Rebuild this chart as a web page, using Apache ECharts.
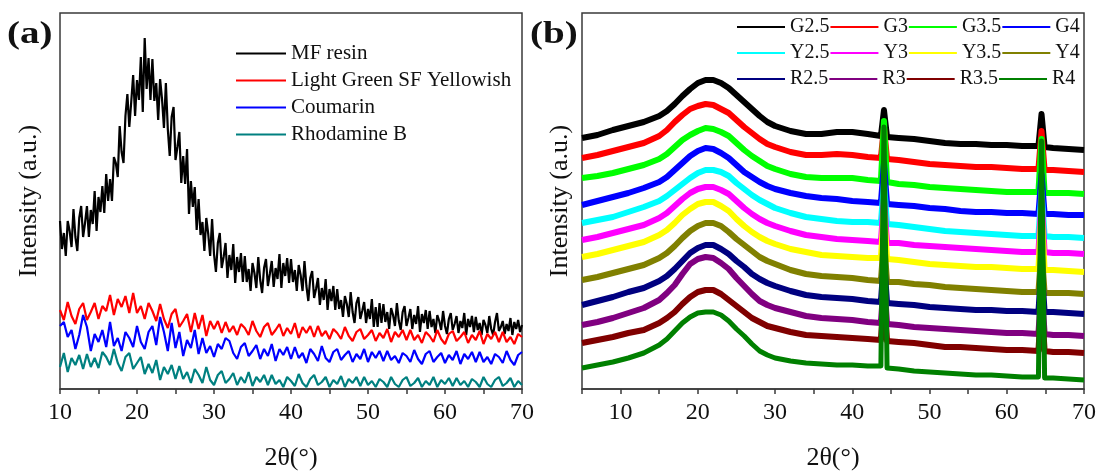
<!DOCTYPE html>
<html>
<head>
<meta charset="utf-8">
<title>XRD</title>
<script src="https://cdn.jsdelivr.net/npm/echarts@6/dist/echarts.min.js"></script>
<style>html,body{margin:0;padding:0;background:#fff}#chart{width:1100px;height:471px}</style>
</head>
<body>
<div id="chart"></div>
<script>
// ---- panel (a): scans from 10 to 70 deg (arbitrary intensity units)
// MF resin read every 0.25 deg, the dye samples every 0.5 deg
var startA = 10, stepMF = 0.25, stepDye = 0.5;
var mfResin = [
  168,140,156,133, 168,158,142,180, 152,138,171,183, 152,166,183,152, 179,165,198,158,
  192,177,203,176, 215,188,210,188, 232,226,212,263, 237,226,273,295, 262,287,314,273,
  309,289,332,277, 351,300,331,289, 330,288,306,269, 310,290,261,306, 260,233,272,282,
  229,242,257,206, 233,205,240,175, 208,182,202,159, 190,154,167,138, 171,155,133,170,
  135,117,146,156, 121,132,146,111, 134,119,145,106, 132,117,136,107, 133,107,120,98,
  126,116,101,132, 109,96,121,130, 103,115,128,102, 121,110,135,101, 126,113,131,106,
  130,107,119,98, 124,114,98,128, 103,88,111,118, 91,100,111,84, 101,89,110,79,
  100,88,103,79, 100,80,89,72, 93,85,72,97, 77,66,86,92, 70,78,87,66,
  80,70,90,62, 82,62,86,66, 85,67,77,60, 81,74,63,86, 68,59,77,83,
  63,71,80,60, 74,65,83,57, 75,66,79,60, 78,62,70,56, 74,68,59,78,
  63,55,70,76, 59,65,73,56, 68,61,76,54, 70,62,73,57, 72,59,66,54,
  69,64,56,73, 60,54,67,76, 58,62,68,55, 65,58,71,54, 67,60,69,57,
  64
];
var lightGreen = [
  79,69,87,73,65,80,86,69,77,86,
  70,83,78,94,74,90,82,93,76,96,
  76,83,70,86,78,68,85,70,61,75,
  80,62,68,75,57,76,60,74,53,68,
  60,68,56,67,57,63,54,65,61,54,
  68,58,52,62,66,54,59,65,53,61,
  55,66,51,62,56,63,52,63,53,58,
  50,60,56,50,62,53,48,57,60,50,
  54,59,48,56,51,60,47,57,52,59,
  49,59,49,54,46,57,53,47,59,50,
  45,55,58,48,52,57,46,54,49,58,
  45,55,50,57,47,57,47,52,45,55,
  52
];
var coumarin = [
  63,67,52,59,40,54,74,62,38,55,
  47,59,42,67,43,51,38,57,51,42,
  63,47,40,57,63,44,72,57,38,66,
  41,57,33,49,41,59,35,51,36,43,
  32,45,40,51,48,36,30,42,46,33,
  38,44,30,40,33,45,28,40,34,42,
  30,42,31,36,26,40,35,28,43,31,
  27,37,40,29,34,38,27,35,30,40,
  27,37,31,38,28,38,29,33,26,36,
  33,27,39,30,25,35,38,27,32,36,
  26,34,29,38,25,35,30,37,27,37,
  27,32,25,35,32,26,38,29,24,34,
  37
];
var rhodamineB = [
  22,36,17,31,24,34,20,35,22,31,
  21,37,32,24,40,26,18,32,36,20,
  26,32,15,25,16,29,9,22,15,24,
  10,23,10,17,6,20,14,6,22,9,
  4,14,18,6,10,16,4,12,6,17,
  3,12,7,14,4,14,5,9,2,12,
  8,3,15,6,2,10,14,4,7,12,
  2,9,5,13,2,10,6,12,3,12,
  4,8,2,10,7,2,12,5,2,9,
  12,3,6,11,2,8,4,12,2,9,
  5,11,3,11,4,8,2,10,7,2,
  12,5,2,9,12,3,6,11,2,8,
  4
];

// ---- panel (b): offset patterns, read at these angles
var anglesB = [5,7,9,11,13, 15,16,17,18,19,20,21,22,23,24,25,26,27,28,29,30,
  32,34,36,38,40,42, 43.7,44.1,44.5, 46,48,50,52,54,56,58,60,62, 64.1,64.5,64.9, 66,68,70];
var g25 = [251,254,259,263,267, 273,278,285,293,300,306,309,309,306,301,294,287,280,273,267,263,
  258,255,255,257,257,255, 253,279,252, 251,250,248,246,245,245,244,244,243, 243,275,242, 241,240,239];
var g3 = [231,234,238,242,246, 253,259,267,274,280,283,285,284,280,276,269,262,256,250,245,242,
  237,234,234,235,234,232, 231,262,230, 229,227,225,224,223,222,222,221,220, 220,258,219, 219,218,217];
var g35 = [211,213,216,220,224, 230,235,242,249,254,258,261,260,257,253,246,239,233,228,223,220,
  215,212,211,211,211,209, 208,268,207, 205,204,202,201,200,199,198,197,197, 197,250,196, 196,196,195];
var g4 = [184,188,192,196,201, 207,212,219,226,233,238,241,240,236,231,224,217,212,207,203,200,
  196,193,191,190,188,187, 186,226,185, 184,183,181,180,178,177,177,176,176, 175,215,175, 175,174,174];
var y25 = [166,169,172,177,182, 188,193,199,205,211,216,219,219,217,213,206,200,194,189,185,181,
  176,172,170,168,167,167, 166,206,165, 164,162,160,158,157,156,155,154,153, 153,198,153, 152,152,151];
var y3 = [149,152,156,160,164, 171,176,183,190,196,200,202,202,199,195,188,181,175,170,166,163,
  158,154,152,150,149,148, 147,190,146, 146,144,143,142,141,140,139,138,137, 137,190,137, 136,136,135];
var y35 = [132,135,139,143,147, 154,159,166,174,180,185,187,187,183,178,170,163,157,152,148,145,
  140,137,134,133,132,131, 131,180,130, 129,127,125,124,123,122,122,121,120, 120,180,119, 119,118,117];
var y4 = [109,112,116,120,124, 131,136,143,151,158,163,166,166,163,157,150,144,138,132,128,125,
  119,115,113,112,111,109, 108,150,107, 107,105,104,102,101,100,99,98,97, 97,140,96, 96,96,95];
var r25 = [84,88,92,97,101, 108,113,120,128,136,141,144,144,140,135,128,122,115,110,106,103,
  98,94,92,91,90,88, 87,130,86, 85,84,82,81,80,79,79,78,78, 77,125,77, 77,76,75];
var r3 = [64,67,71,76,81, 89,96,104,115,125,130,132,131,126,120,111,103,95,88,84,81,
  77,73,71,70,69,67, 66,110,65, 64,62,61,60,59,58,57,56,56, 55,105,55, 54,54,53];
var r35 = [46,49,52,56,59, 66,71,77,85,92,97,99,99,95,89,83,77,71,67,63,61,
  57,54,53,52,51,50, 49,95,48, 47,46,44,42,42,41,40,39,39, 38,90,38, 37,37,36];
var r4 = [21,24,27,31,36, 44,50,58,66,72,76,77,77,74,68,60,53,45,38,34,31,
  28,26,25,24,24,23, 23,262,21, 20,18,17,16,15,14,14,13,12, 12,248,11, 11,10,9];

var namesA = ['MF resin', 'Light Green SF Yellowish', 'Coumarin', 'Rhodamine B'];
var valuesA = [mfResin, lightGreen, coumarin, rhodamineB];
var stepsA = [stepMF, stepDye, stepDye, stepDye];
var colorsA = ['#000000', '#ff0000', '#0000ff', '#008080'];
var widthsA = [2.2, 2.2, 2.2, 2.2];

var namesB = ['G2.5','G3','G3.5','G4','Y2.5','Y3','Y3.5','Y4','R2.5','R3','R3.5','R4'];
var valuesB = [g25, g3, g35, g4, y25, y3, y35, y4, r25, r3, r35, r4];
var colorsB = ['#000000','#ff0000','#00ff00','#0000ff','#00ffff','#ff00ff',
  '#ffff00','#808000','#000080','#800080','#800000','#008000'];

var serif = "'Liberation Serif', 'Times New Roman', serif";

function pairsA(vals, step) {
  return vals.map(function (v, i) { return [startA + i * step, v]; });
}
function pairsB(vals) {
  return vals.map(function (v, i) { return [anglesB[i], v]; });
}

function xAxisFor(idx, min) {
  return {
    type: 'value', gridIndex: idx, min: min, max: 70, interval: 5,
    axisLine: { show: true, lineStyle: { color: '#3a3a3a', width: 1.5 } },
    axisTick: { show: true, inside: false, length: 5, lineStyle: { color: '#3a3a3a', width: 1.5 } },
    axisLabel: {
      margin: 12, color: '#111', fontSize: 24, fontFamily: serif,
      formatter: function (v) { return v % 10 === 0 ? String(v) : ''; }
    },
    splitLine: { show: false },
    name: '2θ(°)', nameLocation: 'middle', nameGap: 56,
    nameTextStyle: { color: '#111', fontSize: 26, fontFamily: serif }
  };
}
function yAxisFor(idx, gap) {
  return {
    type: 'value', gridIndex: idx, min: 0, max: 376,
    axisLine: { show: false }, axisTick: { show: false }, axisLabel: { show: false },
    splitLine: { show: false },
    name: 'Intensity (a.u.)', nameLocation: 'middle', nameGap: gap,
    nameTextStyle: { color: '#111', fontSize: 26, fontFamily: serif }
  };
}

var series = [];
namesA.forEach(function (n, i) {
  series.push({
    name: n, type: 'line', xAxisIndex: 0, yAxisIndex: 0, symbol: 'none',
    data: pairsA(valuesA[i], stepsA[i]), color: colorsA[i],
    lineStyle: { width: widthsA[i], color: colorsA[i] }
  });
});
namesB.forEach(function (n, i) {
  series.push({
    name: n, type: 'line', xAxisIndex: 1, yAxisIndex: 1, symbol: 'none',
    data: pairsB(valuesB[i]), color: colorsB[i],
    lineStyle: { width: n === 'R4' ? 5 : 6, color: colorsB[i], join: 'round' }
  });
});

var legendText = { color: '#111', fontFamily: serif };
function rowLegend(names, top) {
  return {
    data: names, orient: 'horizontal', left: 737, top: top,
    icon: 'rect', itemWidth: 48, itemHeight: 2, itemGap: 1, padding: 0,
    textStyle: Object.assign({ fontSize: 20, lineHeight: 20 }, legendText)
  };
}

var chart = echarts.init(document.getElementById('chart'));
chart.setOption({
  animation: false,
  backgroundColor: '#fff',
  grid: [
    { left: 60, top: 13, width: 462, height: 376, outerBoundsMode: 'none',
      show: true, borderColor: '#3a3a3a', borderWidth: 1.5 },
    { left: 582, top: 13, width: 502, height: 376, outerBoundsMode: 'none',
      show: true, borderColor: '#3a3a3a', borderWidth: 1.5 }
  ],
  xAxis: [xAxisFor(0, 10), xAxisFor(1, 5)],
  yAxis: [yAxisFor(0, 18), yAxisFor(1, 9)],
  legend: [
    {
      data: namesA, orient: 'vertical', left: 236, top: 43,
      icon: 'rect', itemWidth: 50, itemHeight: 2, itemGap: 6, padding: 0,
      textStyle: Object.assign({ fontSize: 21, lineHeight: 21 }, legendText)
    },
    rowLegend(namesB.slice(0, 4), 17),
    rowLegend(namesB.slice(4, 8), 43),
    rowLegend(namesB.slice(8, 12), 69)
  ],
  graphic: [
    { type: 'text', x: 7, y: 19, scaleX: 1.22,
      style: { text: '(a)', font: 'bold 32px ' + serif, fill: '#111' } },
    { type: 'text', x: 530, y: 19, scaleX: 1.22,
      style: { text: '(b)', font: 'bold 32px ' + serif, fill: '#111' } }
  ],
  series: series
});
</script>
</body>
</html>
